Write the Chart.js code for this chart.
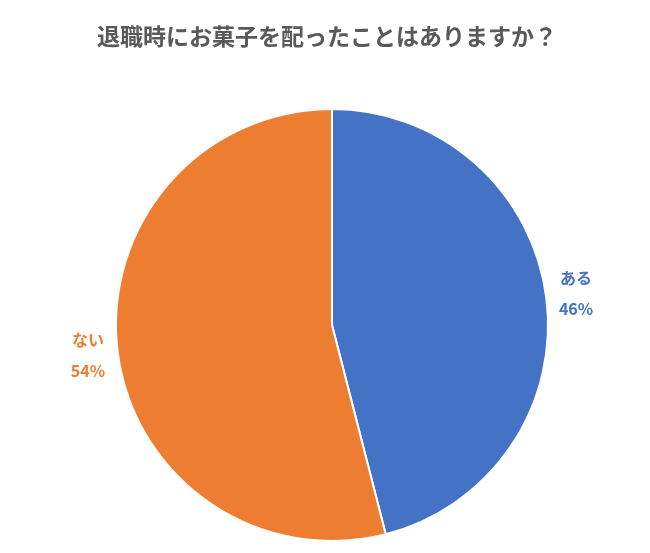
<!DOCTYPE html>
<html><head><meta charset="utf-8">
<script src="https://cdn.jsdelivr.net/npm/chart.js@4"></script>
<style>html,body{margin:0;padding:0;background:#fff}#w{width:650px;height:553px}</style>
</head><body><div id="w"><canvas id="c"></canvas></div>
<script>
const titleText = "退職時にお菓子を配ったことはありますか？";
const categories = ["ある", "ない"];
const values = [46, 54];
const colors = ["#4472C4", "#ED7D31"];

const labelPlugin = {
  id: 'lbl',
  afterDraw(chart) {
    const ctx = chart.ctx;
    ctx.save();
    ctx.fillStyle = '#595959';
    ctx.font = 'bold 23px "Noto Sans CJK JP"';
    ctx.textAlign = 'center'; ctx.textBaseline = 'middle';
    ctx.fillText(titleText, 327, 36);
    const meta = chart.getDatasetMeta(0);
    meta.data.forEach((arc, i) => {
      const p = arc.getProps(['x','y','startAngle','endAngle','outerRadius']);
      const a = (p.startAngle + p.endAngle) / 2;
      const r = p.outerRadius + 30;
      const x = p.x + Math.cos(a) * r, y = p.y + Math.sin(a) * r;
      ctx.fillStyle = colors[i];
      ctx.font = 'bold 16px "Noto Sans CJK JP"';
      ctx.fillText(categories[i], x, y - 16);
      ctx.fillText(values[i] + '%', x, y + 15);
    });
    ctx.restore();
  }
};

new Chart(document.getElementById('c'), {
  type: 'pie',
  data: { labels: categories, datasets: [{ data: values, backgroundColor: colors, borderColor: '#fff', borderWidth: 2 }] },
  options: {
    responsive: true, maintainAspectRatio: false, animation: false,
    layout: { padding: { top: 108, bottom: 11, left: 115, right: 101 } },
    plugins: { legend: { display: false }, tooltip: { enabled: false } }
  },
  plugins: [labelPlugin]
});
</script></body></html>
